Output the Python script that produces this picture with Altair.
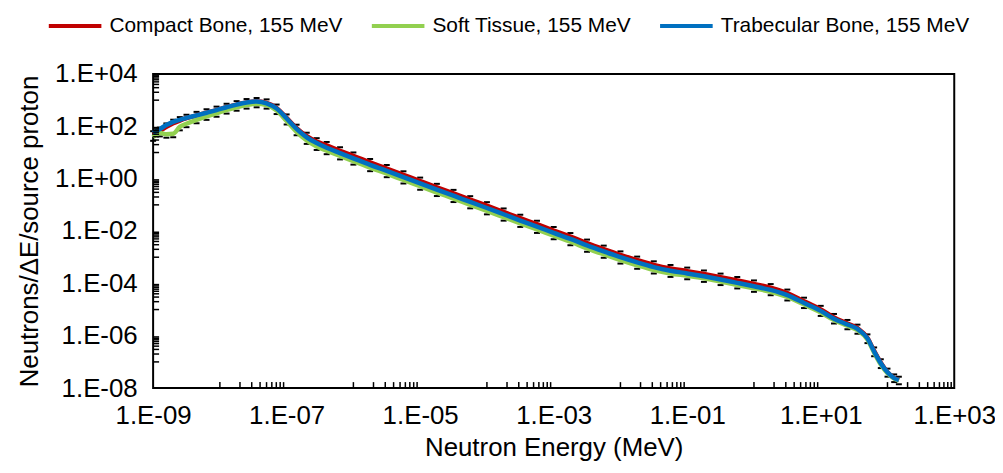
import altair as alt
import pandas as pd

# Neutron energy bins (MeV)
energy = [1.0e-9, 1.26e-9, 1.58e-9, 2.0e-9, 2.51e-9, 3.16e-9, 4.47e-9, 6.31e-9, 8.91e-9,
          1.26e-8, 1.78e-8, 2.51e-8, 3.55e-8, 5.01e-8, 7.08e-8, 1.0e-7, 1.41e-7, 2.0e-7,
          2.82e-7, 3.98e-7, 6.31e-7, 1.0e-6, 1.78e-6, 3.16e-6, 5.62e-6, 1.0e-5, 1.78e-5,
          3.16e-5, 5.62e-5, 1.0e-4, 1.78e-4, 3.16e-4, 5.62e-4, 1.0e-3, 1.78e-3, 3.16e-3,
          5.62e-3, 0.01, 0.0178, 0.0316, 0.0562, 0.1, 0.178, 0.316, 0.562, 1.0, 1.78, 3.16,
          5.62, 10, 15.8, 25.1, 35.5, 50.1, 63.1, 79.4, 100, 126, 148]

compact_bone = [48, 66, 95, 132, 166, 204, 263, 331, 417, 537, 676, 813, 891, 790, 500, 210,
                85, 42, 26, 18.6, 11.7, 7.4, 4.17, 2.45, 1.41, 0.81, 0.468, 0.275, 0.158,
                0.0933, 0.0537, 0.0309, 0.0182, 0.0105, 0.00617, 0.00347, 0.00204, 0.00123,
                7.76e-4, 5.13e-4, 3.72e-4, 2.95e-4, 2.29e-4, 1.74e-4, 1.29e-4, 9.55e-5, 6.92e-5,
                4.27e-5, 2.09e-5, 1.02e-5, 5.0e-6, 2.95e-6, 1.95e-6, 8.3e-7, 2.63e-7, 9.3e-8,
                4.07e-8, 2.45e-8, 2.0e-8]

soft_tissue = [38, 56, 50, 52, 95.5, 126, 178, 240, 316, 417, 537, 646, 724, 645, 400, 160,
               62, 29, 17, 11.7, 7.4, 4.68, 2.63, 1.55, 0.89, 0.513, 0.295, 0.174, 0.1,
               0.0589, 0.0339, 0.0195, 0.0115, 0.0066, 0.00389, 0.00219, 0.00129, 7.76e-4,
               4.9e-4, 3.24e-4, 2.4e-4, 1.95e-4, 1.55e-4, 1.17e-4, 8.7e-5, 6.46e-5, 4.79e-5,
               3.02e-5, 1.55e-5, 7.76e-6, 3.98e-6, 2.4e-6, 1.62e-6, 7.1e-7, 2.24e-7, 7.9e-8,
               3.7e-8, 2.3e-8, 1.9e-8]

trabecular_bone = [56, 79, 112, 148, 178, 209, 263, 331, 417, 537, 676, 813, 891, 760, 480, 200,
                   80, 38, 23, 15.1, 9.5, 6.0, 3.39, 2.0, 1.15, 0.66, 0.38, 0.224, 0.129,
                   0.0759, 0.0437, 0.0251, 0.0148, 0.00851, 0.00501, 0.00282, 0.00166, 0.001,
                   6.3e-4, 4.17e-4, 3.02e-4, 2.4e-4, 1.86e-4, 1.41e-4, 1.05e-4, 7.76e-5, 5.62e-5,
                   3.55e-5, 1.78e-5, 8.9e-6, 4.47e-6, 2.69e-6, 1.82e-6, 7.9e-7, 2.5e-7, 8.9e-8,
                   4.0e-8, 2.4e-8, 2.0e-8]

series_names = ["Compact Bone, 155 MeV", "Soft Tissue, 155 MeV", "Trabecular Bone, 155 MeV"]
series_colors = ["#C00000", "#92D050", "#0070C0"]

x_label_values = [1e-9, 1e-7, 1e-5, 1e-3, 1e-1, 1e1, 1e3]
y_label_values = [1e-8, 1e-6, 1e-4, 1e-2, 1e0, 1e2, 1e4]
x_minor_decades = [-8, -6, -4, -2, 0, 2]
y_minor_decades = [-7, -5, -3, -1, 1, 3]
minor_mult = [1, 2, 3, 4, 5, 6, 7, 8, 9]

FONT = "Liberation Sans"
X_DOMAIN = [1e-9, 1e3]
Y_DOMAIN = [1e-8, 1e4]

frames = []
for name, vals in zip(series_names, [compact_bone, soft_tissue, trabecular_bone]):
    frames.append(pd.DataFrame({"E": energy, "N": vals, "series": name}))
df = pd.concat(frames, ignore_index=True)

x_ticks = pd.DataFrame({"E": [k * 10.0 ** d for d in x_minor_decades for k in minor_mult],
                        "N": Y_DOMAIN[0]})
y_ticks = pd.DataFrame({"N": [k * 10.0 ** d for d in y_minor_decades for k in minor_mult],
                        "E": X_DOMAIN[0]})

label_expr = ("'1.E' + (datum.value < 1 ? '-' : '+') + "
              "(abs(round(log(datum.value)/LN10)) < 10 ? '0' : '') + "
              "abs(round(log(datum.value)/LN10))")

xscale = alt.Scale(type="log", domain=X_DOMAIN, nice=False)
yscale = alt.Scale(type="log", domain=Y_DOMAIN, nice=False)

x_enc = alt.X("E:Q", scale=xscale,
              axis=alt.Axis(values=x_label_values, labelExpr=label_expr,
                            title="Neutron Energy (MeV)", labelPadding=15,
                            titlePadding=6, labelFlush=False))
y_enc = alt.Y("N:Q", scale=yscale,
              axis=alt.Axis(values=y_label_values, labelExpr=label_expr,
                            title="Neutrons/ΔE/source proton", labelPadding=16,
                            titlePadding=12))

color = alt.Color("series:N",
                  scale=alt.Scale(domain=series_names, range=series_colors),
                  legend=alt.Legend(title=None, orient="none", direction="horizontal",
                                    legendX=-107, legendY=-77, symbolType="stroke",
                                    symbolSize=2800, symbolStrokeWidth=4,
                                    labelFontSize=21, labelFont=FONT, labelColor="black",
                                    labelOffset=6, columnPadding=21, labelLimit=400))

def err_layer(name, offset):
    return alt.Chart(df[df.series == name]).mark_tick(
        orient="horizontal", color="black", size=6, thickness=2, yOffset=offset, opacity=1
    ).encode(x=alt.X("E:Q", scale=xscale), y=alt.Y("N:Q", scale=yscale))

def line_layer(name):
    return alt.Chart(df[df.series == name]).mark_line(
        strokeWidth=4.5, interpolate="monotone"
    ).encode(x=x_enc, y=y_enc, color=color)

xt = alt.Chart(x_ticks).mark_tick(orient="vertical", color="black", size=6,
                                  thickness=1.5, yOffset=-3, opacity=1).encode(
    x=alt.X("E:Q", scale=xscale), y=alt.Y("N:Q", scale=yscale))
yt = alt.Chart(y_ticks).mark_tick(orient="horizontal", color="black", size=6,
                                  thickness=1.5, xOffset=3, opacity=1).encode(
    x=alt.X("E:Q", scale=xscale), y=alt.Y("N:Q", scale=yscale))

chart = alt.layer(
    err_layer(series_names[0], -3.5),
    err_layer(series_names[1], 3.5),
    line_layer(series_names[0]),
    line_layer(series_names[1]),
    line_layer(series_names[2]),
    xt, yt,
).properties(
    width=806, height=316,
    background="white",
    autosize=alt.AutoSizeParams(type="none"),
    padding={"left": 146, "top": 65, "right": 41, "bottom": 76},
).configure_view(
    stroke="black", strokeWidth=2
).configure_axis(
    labelFont=FONT, labelFontSize=26, labelColor="black",
    titleFont=FONT, titleFontSize=26, titleFontWeight="normal", titleColor="black",
    ticks=False, domain=False, grid=False
)

chart.save("out.html", embed_options={"renderer": "svg", "actions": False})
